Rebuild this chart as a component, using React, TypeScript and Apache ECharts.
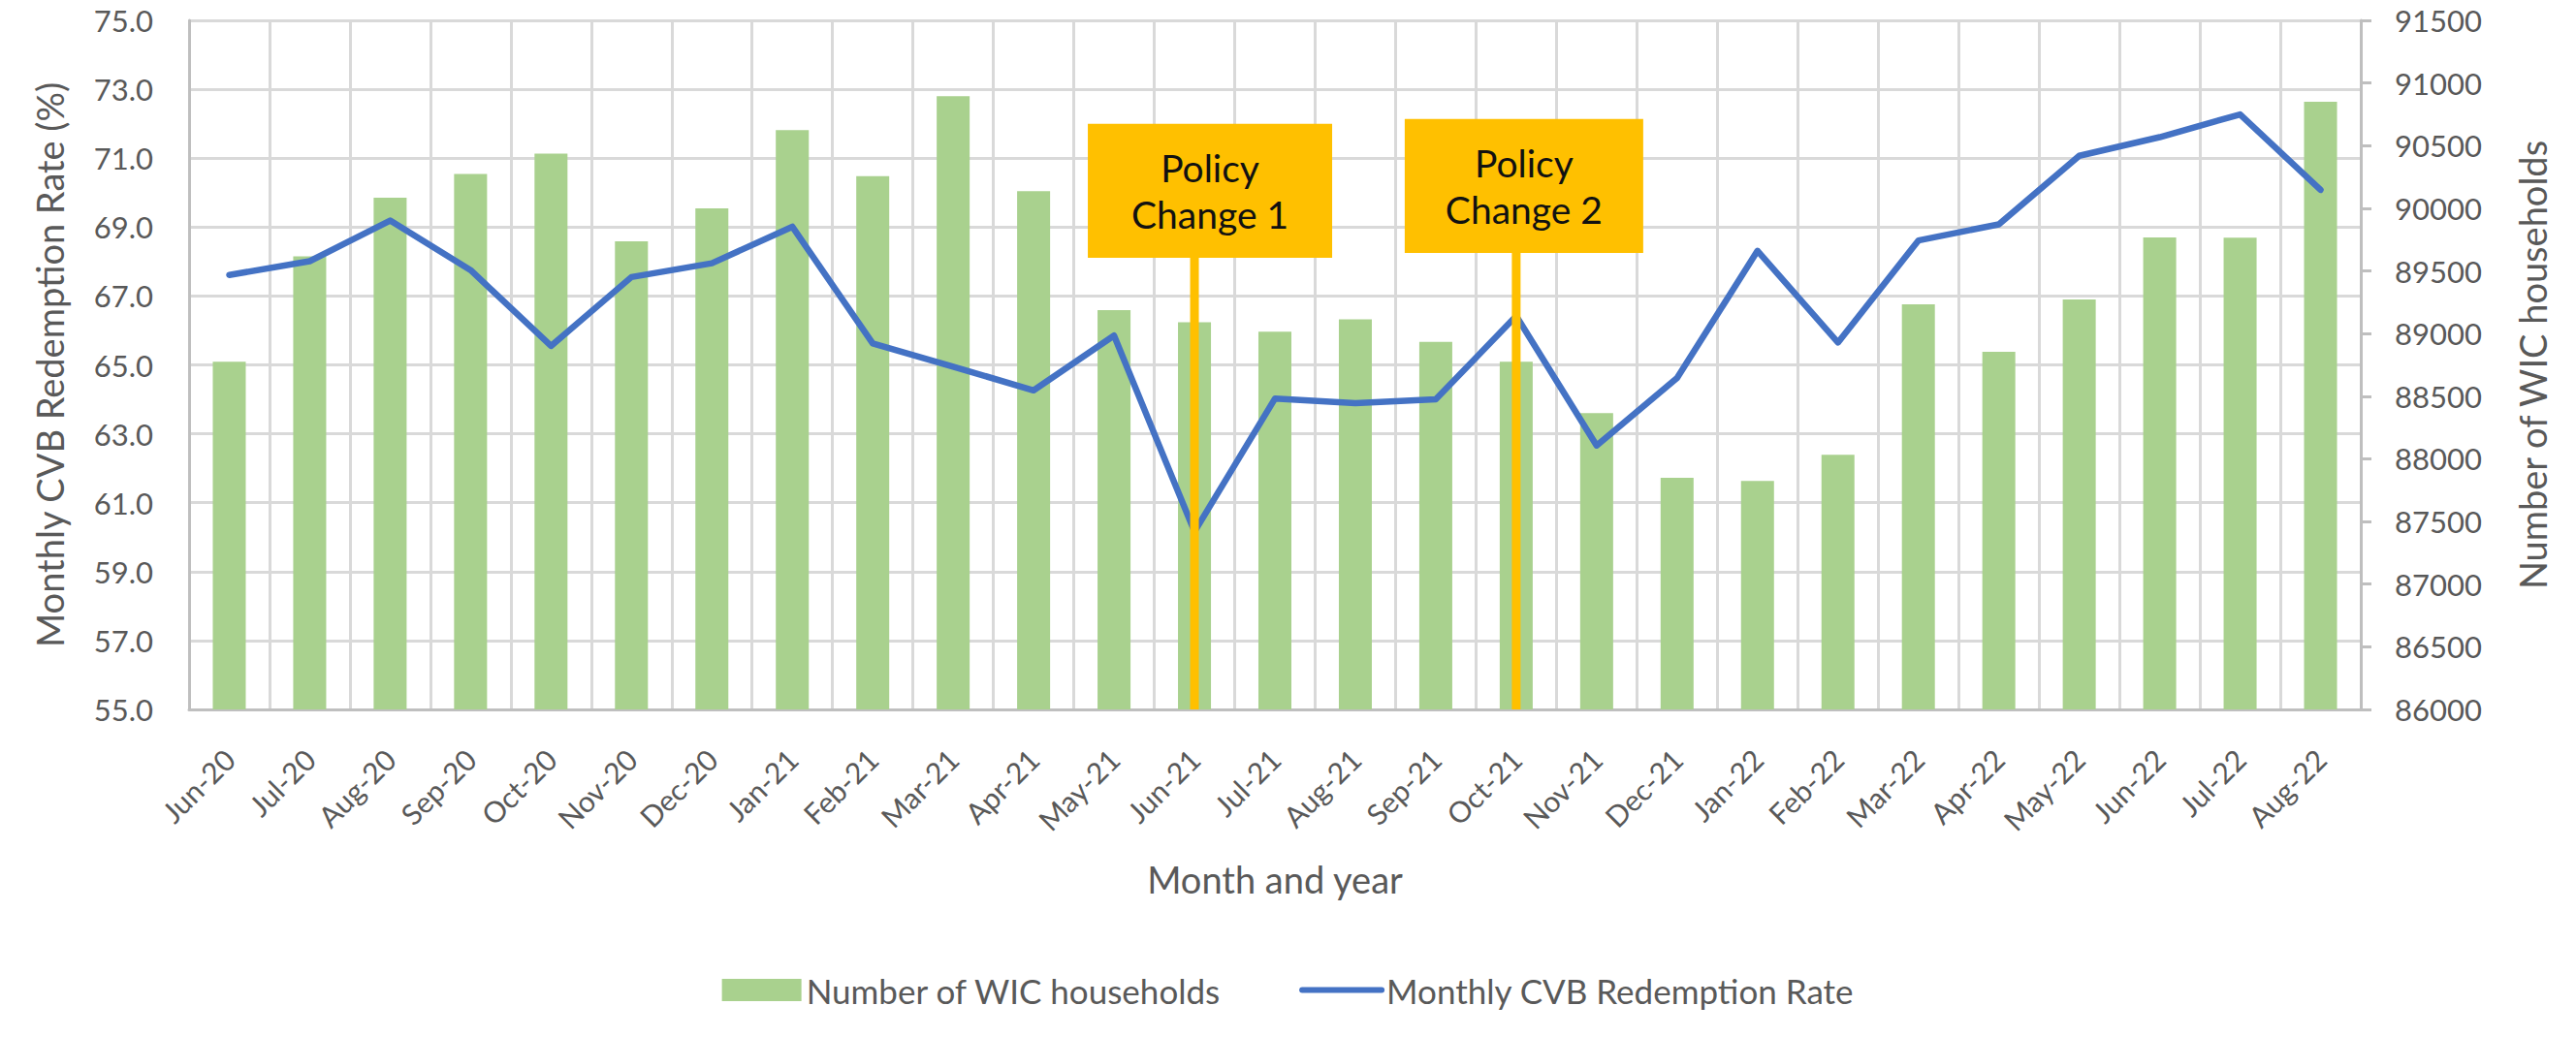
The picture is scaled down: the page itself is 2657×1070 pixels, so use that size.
import React, { useEffect, useRef } from "react";
import * as echarts from "echarts";

const months = [
  "Jun-20", "Jul-20", "Aug-20", "Sep-20", "Oct-20", "Nov-20", "Dec-20",
  "Jan-21", "Feb-21", "Mar-21", "Apr-21", "May-21", "Jun-21", "Jul-21",
  "Aug-21", "Sep-21", "Oct-21", "Nov-21", "Dec-21", "Jan-22", "Feb-22",
  "Mar-22", "Apr-22", "May-22", "Jun-22", "Jul-22", "Aug-22",
];

const wicHouseholds = [
  88775, 89616, 90084, 90274, 90436, 89737, 89999,
  90623, 90257, 90895, 90136, 89187, 89091, 89014,
  89113, 88934, 88775, 88365, 87848, 87823, 88032,
  89234, 88854, 89272, 89768, 89765, 90851,
];

const redemptionRate = [
  67.61, 68.01, 69.19, 67.75, 65.55, 67.55, 67.95,
  69.01, 65.62, 64.95, 64.26, 65.85, 60.16, 64.02,
  63.89, 64.0, 66.42, 62.66, 64.62, 68.31, 65.65,
  68.61, 69.08, 71.07, 71.61, 72.27, 70.08,
];

// axis ranges: [min, max, interval]
const rateAxis = [55, 75, 2];
const householdAxis = [86000, 91500, 500];

// policy annotations
const policyMonths = ["Jun-21", "Oct-21"];
const policyLabels = ["Policy\nChange 1", "Policy\nChange 2"];
const policyBoxTop = [72.0, 72.14];
const policyBoxBottom = [68.11, 68.25];

const FONT = "Lato, 'Open Sans', 'Noto Sans', sans-serif";
const TEXT_GRAY = "#595959";
const GRID_GRAY = "#d9d9d9";
const AXIS_GRAY = "#bfbfbf";
const ORANGE = "#FFC000";
const LINE_BLUE = "#4472c4";

export default function App() {
  const ref = useRef<HTMLDivElement>(null);

  useEffect(() => {
    if (!ref.current) return;
    const chart = echarts.init(ref.current, undefined, { renderer: "svg" });

    chart.setOption({
      animation: false,
      backgroundColor: "#ffffff",
      textStyle: { fontFamily: FONT },
      grid: { left: 195, right: 222, top: 21, bottom: 338, containLabel: false },
      legend: {
        left: "center",
        top: 999,
        itemWidth: 82,
        itemHeight: 23,
        itemGap: 80,
        textStyle: { fontSize: 35, color: TEXT_GRAY, fontFamily: FONT },
        data: [
          { name: "Number of WIC households", icon: "rect" },
          {
            name: "Monthly CVB Redemption Rate",
            itemStyle: { opacity: 0 },
            lineStyle: { width: 6, color: LINE_BLUE, cap: "round" },
          },
        ],
      },
      xAxis: {
        type: "category",
        data: months,
        boundaryGap: true,
        name: "Month and year",
        nameLocation: "middle",
        nameGap: 156,
        nameTextStyle: { fontSize: 38, color: TEXT_GRAY, fontFamily: FONT },
        axisLine: { show: true, lineStyle: { color: AXIS_GRAY, width: 3 } },
        axisTick: { show: false },
        splitLine: { show: true, interval: 0, lineStyle: { color: GRID_GRAY, width: 3 } },
        axisLabel: {
          interval: 0,
          rotate: 45,
          margin: 46,
          fontSize: 30,
          color: TEXT_GRAY,
          fontFamily: FONT,
        },
      },
      yAxis: [
        {
          type: "value",
          position: "left",
          min: rateAxis[0],
          max: rateAxis[1],
          interval: rateAxis[2],
          name: "Monthly CVB Redemption Rate (%)",
          nameLocation: "middle",
          nameRotate: 90,
          nameGap: 125,
          nameTextStyle: { fontSize: 38, color: TEXT_GRAY, fontFamily: FONT },
          axisLine: { show: true, lineStyle: { color: AXIS_GRAY, width: 3 } },
          axisTick: { show: false },
          splitLine: { show: true, lineStyle: { color: GRID_GRAY, width: 3 } },
          axisLabel: {
            margin: 37,
            fontSize: 31,
            color: TEXT_GRAY,
            fontFamily: FONT,
            formatter: (v: number) => v.toFixed(1),
          },
        },
        {
          type: "value",
          position: "right",
          min: householdAxis[0],
          max: householdAxis[1],
          interval: householdAxis[2],
          name: "Number of WIC households",
          nameLocation: "middle",
          nameRotate: 90,
          nameGap: 158,
          nameTextStyle: { fontSize: 38, color: TEXT_GRAY, fontFamily: FONT },
          axisLine: { show: true, lineStyle: { color: AXIS_GRAY, width: 3 } },
          axisTick: { show: true, inside: false, length: 11, lineStyle: { color: AXIS_GRAY, width: 3 } },
          splitLine: { show: false },
          axisLabel: {
            margin: 35,
            fontSize: 31,
            color: TEXT_GRAY,
            fontFamily: FONT,
            formatter: (v: number) => String(v),
          },
        },
      ],
      series: [
        {
          name: "Number of WIC households",
          type: "bar",
          yAxisIndex: 1,
          data: wicHouseholds,
          barWidth: "41%",
          itemStyle: { color: "#a9d18e" },
          z: 2,
        },
        {
          name: "Monthly CVB Redemption Rate",
          type: "line",
          yAxisIndex: 0,
          data: redemptionRate,
          symbol: "none",
          lineStyle: { color: LINE_BLUE, width: 6.5, join: "round", cap: "round" },
          itemStyle: { color: LINE_BLUE },
          z: 3,
        },
      ],
    });

    // annotation boxes positioned through the chart's own scales
    const boxWidths = [252, 246];
    const boxOffsets = [16, 8];
    const yBase = chart.convertToPixel({ yAxisIndex: 0 }, rateAxis[0]) as number;
    const graphics: any[] = [];
    policyMonths.forEach((m, i) => {
      const cx = chart.convertToPixel({ xAxisIndex: 0 }, m) as number;
      const yTop = chart.convertToPixel({ yAxisIndex: 0 }, policyBoxTop[i]) as number;
      const yBot = chart.convertToPixel({ yAxisIndex: 0 }, policyBoxBottom[i]) as number;
      const bx = cx + boxOffsets[i];
      graphics.push({
        type: "line",
        z: 100,
        shape: { x1: cx, y1: yBot, x2: cx, y2: yBase },
        style: { stroke: ORANGE, lineWidth: 9 },
      });
      graphics.push({
        type: "rect",
        z: 100,
        shape: { x: bx - boxWidths[i] / 2, y: yTop, width: boxWidths[i], height: yBot - yTop },
        style: { fill: ORANGE },
      });
      graphics.push({
        type: "text",
        z: 101,
        x: bx,
        y: (yTop + yBot) / 2,
        style: {
          text: policyLabels[i],
          fill: "#111111",
          fontSize: 39,
          fontFamily: FONT,
          lineHeight: 48,
          align: "center",
          verticalAlign: "middle",
        },
      });
    });
    chart.setOption({ graphic: graphics });

    return () => chart.dispose();
  }, []);

  return (
    <div
      ref={ref}
      style={{ position: "absolute", left: 0, top: 0, width: 2657, height: 1070, background: "#fff" }}
    />
  );
}
